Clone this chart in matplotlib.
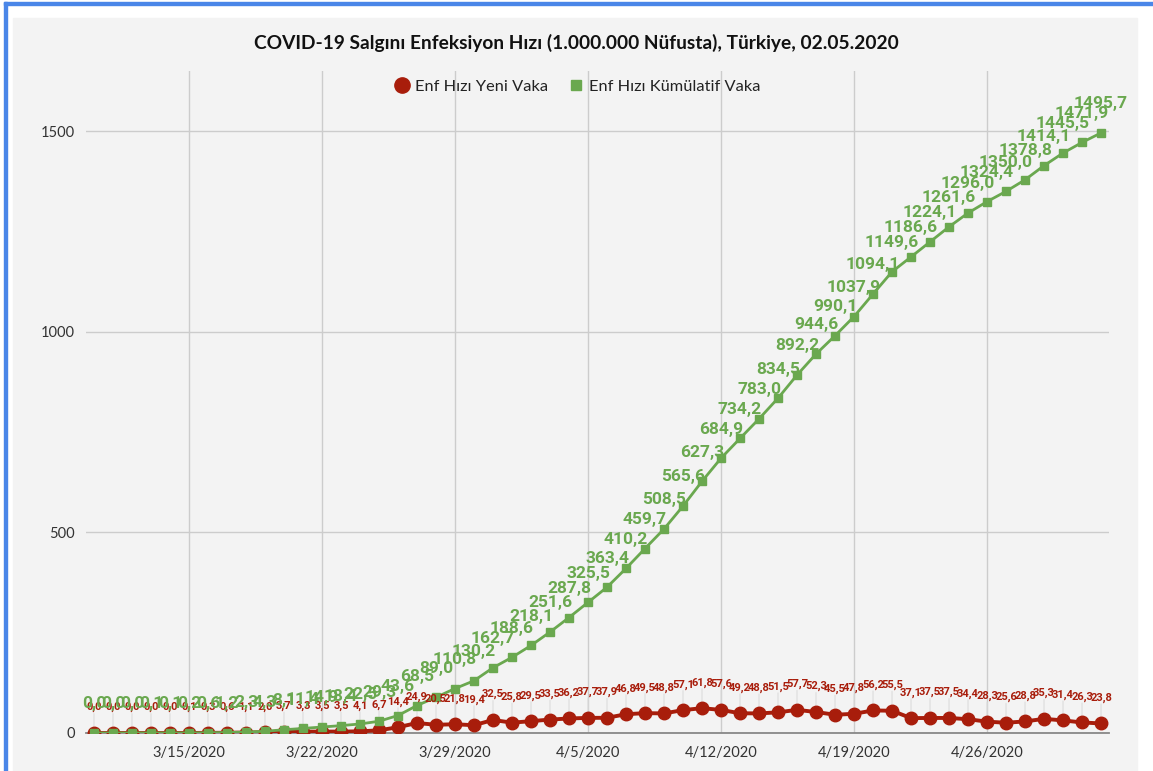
import numpy as np
import matplotlib
matplotlib.use("Agg")
import matplotlib.pyplot as plt
import matplotlib.dates as mdates
from matplotlib.patches import Rectangle
from matplotlib.lines import Line2D

# dates 10.03.2020 - 02.05.2020
dates = np.arange(np.datetime64("2020-03-10"), np.datetime64("2020-05-03"))

# Enf Hizi Yeni Vaka (per 1.000.000)
yeni = [0.0, 0.0, 0.0, 0.0, 0.0, 0.1, 0.3, 0.6, 1.1, 2.0, 3.7, 3.3, 3.5, 3.5,
        4.1, 6.7, 14.4, 24.9, 20.5, 21.8, 19.4, 32.5, 25.8, 29.5, 33.5, 36.2,
        37.7, 37.9, 46.8, 49.5, 48.8, 57.1, 61.8, 57.6, 49.2, 48.8, 51.5, 57.7,
        52.3, 45.5, 47.8, 56.2, 55.5, 37.1, 37.5, 37.5, 34.4, 28.3, 25.6, 28.8,
        35.3, 31.4, 26.3, 23.8]

# Enf Hizi Kumulatif Vaka (per 1.000.000)
kumulatif = [0.0, 0.0, 0.0, 0.1, 0.1, 0.2, 0.6, 1.2, 2.3, 4.3, 8.1, 11.4, 14.9,
             18.4, 22.5, 29.3, 43.6, 68.5, 89.0, 110.8, 130.2, 162.7, 188.6,
             218.1, 251.6, 287.8, 325.5, 363.4, 410.2, 459.7, 508.5, 565.6,
             627.3, 684.9, 734.2, 783.0, 834.5, 892.2, 944.6, 990.1, 1037.9,
             1094.1, 1149.6, 1186.6, 1224.1, 1261.6, 1296.0, 1324.4, 1350.0,
             1378.8, 1414.1, 1445.5, 1471.9, 1495.7]

x_ticks = np.array(["2020-03-15", "2020-03-22", "2020-03-29", "2020-04-05",
                    "2020-04-12", "2020-04-19", "2020-04-26"], dtype="datetime64[D]")
y_ticks = [0, 500, 1000, 1500]

title = "COVID-19 Salgını Enfeksiyon Hızı (1.000.000 Nüfusta), Türkiye, 02.05.2020"
red = "#a81d0b"
green = "#6aa84f"

plt.rcParams["font.family"] = ["Lato", "DejaVu Sans"]

fig = plt.figure(figsize=(11.53, 7.71), dpi=100)
W, H = 1153, 771
# panel and frame
fig.add_artist(Rectangle((13 / W, 0), (1137 - 13) / W, 1 - 18 / H,
                         transform=fig.transFigure, color="#f3f3f3", zorder=-10))
fig.add_artist(Rectangle((4 / W, 1 - 5 / H), 1, 3 / H,
                         transform=fig.transFigure, color="#4a86e8", zorder=-9))
fig.add_artist(Rectangle((4 / W, 0), 3 / W, 1 - 2 / H,
                         transform=fig.transFigure, color="#4a86e8", zorder=-9))

ax = fig.add_axes([86 / W, 1 - 733 / H, (1109 - 86) / W, (733 - 71) / H])
ax.set_facecolor("none")

xd = mdates.date2num(dates)
ax.plot(xd, yeni, color=red, lw=2.8, marker="o", ms=9, zorder=3)
ax.plot(xd, kumulatif, color=green, lw=2.0, marker="s", ms=5.5, zorder=4)

# data labels with leader lines
for xi, v in zip(xd, yeni):
    ax.annotate("", xy=(xi, v), xytext=(0, 14), textcoords="offset points",
                arrowprops=dict(arrowstyle="-", color="#dcdcdc", lw=0.8,
                                shrinkA=0, shrinkB=5), zorder=2)
    ax.annotate(f"{v:.1f}".replace(".", ","), xy=(xi, v), xytext=(0, 18.5),
                textcoords="offset points", ha="center", va="center",
                fontsize=8, fontweight="bold", color=red, zorder=5,
                family=["Roboto", "DejaVu Sans"])
for xi, v in zip(xd, kumulatif):
    ax.annotate(f"{v:.1f}".replace(".", ","), xy=(xi, v), xytext=(0, 21),
                textcoords="offset points", ha="center", va="center",
                fontsize=12.5, fontweight="bold", color=green, zorder=6,
                family=["Roboto", "DejaVu Sans"])

ax.set_xlim(xd[0] - 0.42, xd[-1] + 0.42)
ax.set_ylim(0, 1650)
ax.set_xticks(mdates.date2num(x_ticks))
ax.xaxis.set_major_formatter(mdates.DateFormatter("%-m/%-d/%Y"))
ax.set_yticks(y_ticks)
ax.tick_params(length=0, labelsize=10.5, colors="#333333")
ax.tick_params(axis="x", pad=9)
ax.tick_params(axis="y", pad=8)
ax.grid(True, color="#cccccc", lw=1)
ax.set_axisbelow(True)
for s in ["top", "right", "left"]:
    ax.spines[s].set_visible(False)
ax.spines["bottom"].set_color("#888888")
ax.spines["bottom"].set_linewidth(1.3)

fig.text(0.5, 1 - 43 / H, title, ha="center", va="center", fontsize=13.8,
         fontweight="bold", color="#111111")

handles = [Line2D([], [], color=red, marker="o", ls="none", ms=11),
           Line2D([], [], color=green, marker="s", ls="none", ms=7)]
fig.legend(handles, ["Enf Hızı Yeni Vaka", "Enf Hızı Kümülatif Vaka"],
           loc="center", bbox_to_anchor=(577 / W, 1 - 87 / H), ncol=2,
           frameon=False, fontsize=11.8, handletextpad=0.3, columnspacing=1.2,
           handlelength=1.0, labelcolor="#222222")

fig.savefig("out.png", dpi=100)
